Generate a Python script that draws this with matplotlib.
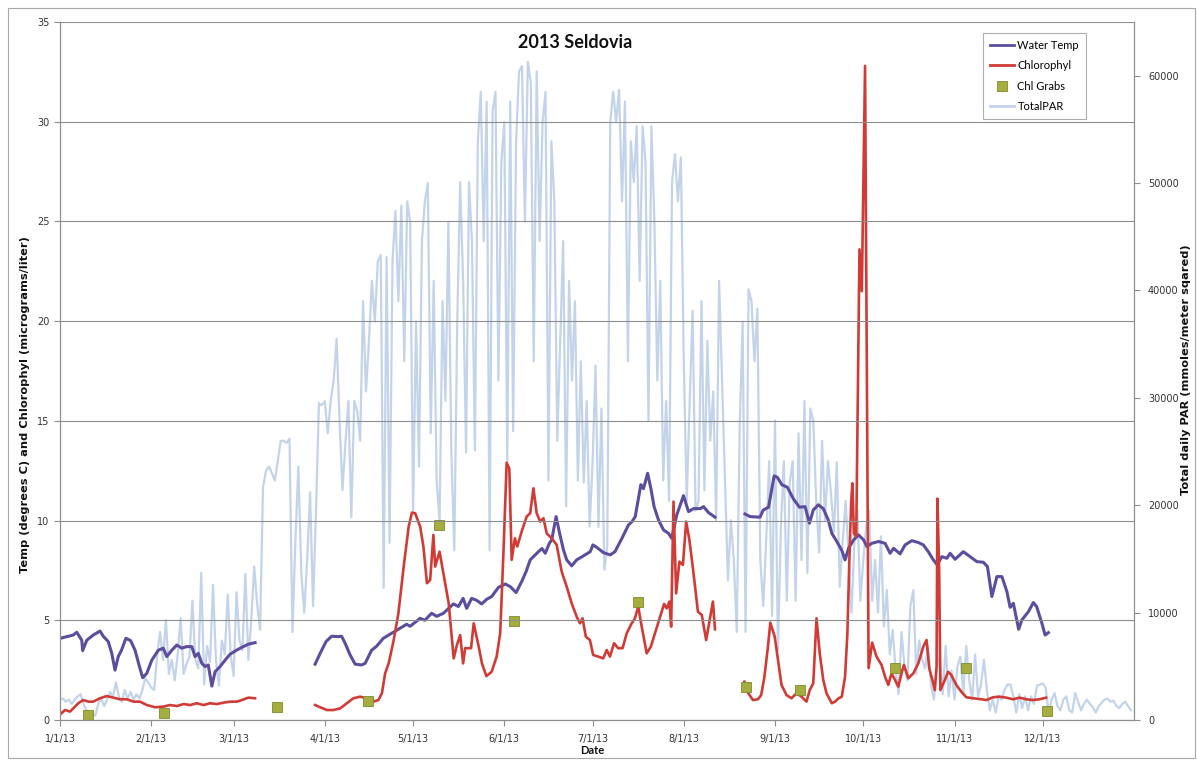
import numpy as np
import matplotlib
matplotlib.use('Agg')
import matplotlib.pyplot as plt
import matplotlib.dates as mdates
from matplotlib.lines import Line2D
from matplotlib.patches import Rectangle

# ---------------- data (day offsets from 2013-01-01) ----------------
temp_day = [0.2, 4.5, 5.7, 7.4, 7.7, 9.1, 11.3, 13.6, 14.7, 16.4, 17.6, 18.7, 19.8, 20.9, 22.4,
            24, 25.5, 27, 28.1, 29.5, 31.2, 33.4, 35.1, 36.3, 38, 39.7, 41.4, 43, 44.8, 45.9,
            47, 48.2, 49.3, 50.4, 51.6, 52.7, 54.4, 56.1, 57.8, 60, 62.3, 64, 66.3,
            76,
            86.7, 88.4, 90.4, 92.3, 94.6, 95.7, 96.9, 98.6, 100.3, 102.5, 103.7, 105.9, 107.6, 109.9,
            112.7, 115, 117.8, 119, 122.4, 124, 126.3, 128, 130.3, 133.7, 135.4, 137, 138.2, 139.9,
            141.6, 143.3, 145, 146.7, 149, 151.3, 153, 155, 156.9, 158.4, 159.8, 160.9, 162.6, 163.8,
            164.9, 166.3, 167.1, 168.6, 169.8, 171.1, 172.2, 173.9, 175.6, 177.9, 180.2, 181.1, 182.4,
            184.7, 187, 188.6, 190.8, 193.2, 194.4, 195.5, 197.4, 198.3, 199.7, 200.8, 201.9, 203.4,
            205.1, 206.8, 207.9, 209.6, 211.9, 213.6, 215.3, 217.6, 218.7, 220.4, 222.6,
            228,
            232.8, 234.5, 237.9, 239, 240.8, 242.7, 243.8, 245.3, 247.2, 249.2, 251.3, 253.2, 254.7,
            256, 257.7, 259.4, 261.1, 262.3, 264, 265.7, 266.8, 268, 269.7, 271.4, 273.1, 274.2,
            275.9, 278.2, 280.4, 282.1, 283.3, 285.5, 287.2, 289.5, 291.7, 293.4, 295.1, 296.8,
            298.1, 299.7, 301.4, 302.5, 304.2, 307, 309.3, 311.6, 313.8, 315.2, 316.7, 318.4,
            320.1, 321.8, 322.9, 324, 325.8, 326.9, 329.1, 330.8, 331.9, 333.7, 334.8, 335.9]
temp_val = [4.1, 4.26, 4.4, 4.0, 3.48, 4.0, 4.26, 4.46, 4.2, 3.93, 3.34, 2.5, 3.18, 3.5, 4.1,
            3.98, 3.5, 2.68, 2.12, 2.34, 3.0, 3.5, 3.6, 3.18, 3.5, 3.76, 3.6, 3.68, 3.68, 3.18,
            3.34, 2.84, 2.68, 2.76, 1.7, 2.42, 2.68, 3.0, 3.3, 3.5, 3.68, 3.8, 3.88,
            np.nan,
            2.8, 3.34, 3.93, 4.2, 4.18, 4.2, 3.85, 3.26, 2.8, 2.76, 2.84, 3.5, 3.7, 4.1,
            4.35, 4.55, 4.8, 4.7, 5.1, 5.0, 5.35, 5.2, 5.35, 5.82, 5.69, 6.1, 5.6, 6.1,
            6.0, 5.82, 6.05, 6.19, 6.65, 6.82, 6.69, 6.39, 6.94, 7.44, 8.03, 8.19, 8.44, 8.6,
            8.36, 8.86, 9.03, 10.2, 9.36, 8.53, 8.03, 7.73, 8.03, 8.23, 8.44, 8.78, 8.66,
            8.39, 8.28, 8.44, 9.06, 9.78, 9.95, 10.2, 11.8, 11.6, 12.37, 11.62, 10.7, 10.03,
            9.53, 9.36, 9.11, 10.28, 11.25, 10.45, 10.6, 10.6, 10.7, 10.4, 10.17,
            np.nan,
            10.33, 10.2, 10.17, 10.53, 10.67, 12.24, 12.17, 11.8, 11.67, 11.1, 10.67, 10.7, 9.87,
            10.53, 10.79, 10.6, 10.03, 9.36, 8.95, 8.5, 8.03, 8.61, 9.03, 9.28, 9.03, 8.7,
            8.86, 8.95, 8.86, 8.36, 8.61, 8.33, 8.78, 8.99, 8.9, 8.78, 8.44, 8.03,
            7.78, 8.19, 8.11, 8.36, 8.06, 8.44, 8.19, 7.94, 7.91, 7.69, 6.19, 7.19,
            7.19, 6.44, 5.65, 5.85, 4.55, 5.02, 5.43, 5.89, 5.69, 4.85, 4.26, 4.38]

chl_day = [0.2, 1.7, 3.4, 4.5, 6.2, 7.9, 9.6, 11.3, 13.6, 15.9, 18.1, 20.4, 22.7, 25, 27.2,
           29.5, 32.3, 35.1, 37.4, 39.7, 42, 44.2, 46.5, 48.8, 51, 53.3, 55.6, 57.8, 60.1, 61.8,
           64, 66.3,
           76,
           86.7, 88.4, 90.7, 92.9, 95.2, 97.5, 99.7, 102, 104.3, 106.5, 108.2, 109.4, 110.5, 111.7,
           113.4, 115, 116.8, 118.5, 119.6, 120.7, 122.4, 123.5, 124.7, 125.8, 126.9, 127.5, 129,
           130.3, 132.1, 133.8, 134.9, 136, 137, 137.7, 139.7, 140.6, 142.3, 143.4, 144.9, 146.7,
           148.4, 149.6, 150.7, 151.8, 152.7, 153.5, 154.6, 155.4, 156.9, 158.6, 159.8, 160.9, 162,
           163.2, 164.3, 165.4, 167.1, 168.8, 170.5, 172.2, 173.9, 175.6, 176.7, 177.6, 178.7,
           180.1, 181.2, 182.9, 184.6, 185.8, 186.9, 188.3, 189.7, 191.2, 192.6, 194.3, 195.4,
           196.5, 197.7, 199.4, 200.8, 202.2, 203.9, 205.3, 206.2, 207.1, 207.7, 208.5, 209.4,
           210.5, 211.7, 212.8, 213.9, 215.3, 216.8, 218.1, 219.6, 220.8, 221.9, 222.6,
           228,
           232.6, 233.8, 235.5, 237.2, 238.3, 239.4, 240.6, 241.4, 242.9, 244, 245.2, 246.9, 248.6,
           250.3, 252, 253.7, 254.8, 256, 257.1, 258.2, 259.4, 260.5, 262.3, 263.4, 264.6, 265.7,
           266.8, 267.6, 268.2, 268.9, 269.3, 269.8, 270.6, 271.7, 272.5, 273.6, 274.8, 276.0,
           277.5, 279.2, 280.4, 281.5, 282.6, 283.8, 284.9, 286, 286.8, 288.3, 290, 291.7, 293.4,
           294.5, 295.4, 296.5, 297.3, 297.9, 298.2, 298.8, 299.2, 300.7, 301.8, 302.9, 304.6,
           306.3, 308, 310.3, 313.1, 314.8, 317.1, 319.3, 321.6, 323.9, 326.1, 328.4, 330.6,
           332.9, 335.1]
chl_val = [0.3, 0.5, 0.42, 0.58, 0.84, 1.0, 0.92, 0.92, 1.09, 1.2, 1.12, 1.04, 1.04, 0.92, 0.92,
           0.75, 0.64, 0.67, 0.75, 0.7, 0.8, 0.75, 0.84, 0.75, 0.84, 0.8, 0.87, 0.92, 0.92, 1.0,
           1.12, 1.09,
           np.nan,
           0.75, 0.64, 0.5, 0.5, 0.58, 0.84, 1.09, 1.17, 1.09, 0.92, 1.0, 1.34, 2.34, 2.84,
           4.0, 5.35, 7.69, 9.7, 10.4, 10.37, 9.7, 8.7, 6.86, 7.02, 9.28, 7.69, 8.44,
           7.36, 5.85, 3.09, 3.76, 4.26, 2.84, 3.6, 3.6, 4.85, 3.68, 2.84, 2.2, 2.42,
           3.18, 4.35, 8.36, 12.9, 12.6, 8.03, 9.11, 8.7, 9.45, 10.2, 10.37, 11.62, 10.37,
           9.95, 10.12, 9.36, 9.11, 8.78, 7.44, 6.69, 5.85, 5.18, 4.85, 5.1, 4.18,
           4.01, 3.26, 3.18, 3.09, 3.51, 3.18, 3.85, 3.6, 3.6, 4.35, 4.85, 5.1,
           5.69, 4.68, 3.34, 3.68, 4.35, 5.18, 5.82, 5.6, 5.94, 4.68, 10.95, 6.35,
           7.94, 7.78, 9.95, 9.03, 7.36, 5.43, 5.27, 4.01, 5.02, 5.94, 4.55,
           np.nan,
           1.92, 1.37, 1.0, 1.04, 1.25, 2.17, 3.68, 4.88, 4.18, 3.01, 1.76, 1.25, 1.09,
           1.34, 1.17, 0.92, 1.5, 1.84, 5.1, 3.34, 2.0, 1.34, 0.84, 0.92, 1.09, 1.17,
           2.17, 4.35, 7.69, 11.0, 11.87, 9.36, 9.2, 23.6, 21.5, 32.8, 2.6, 3.88,
           3.18, 2.76, 2.17, 1.76, 2.34, 2.0, 1.67, 2.34, 2.76, 2.09, 2.34, 2.84, 3.68,
           4.01, 2.6, 2.0, 1.5, 2.68, 11.1, 7.36, 1.5, 2.0, 2.42, 2.26, 1.76,
           1.42, 1.14, 1.09, 1.04, 1.0, 1.14, 1.17, 1.12, 1.04, 1.12, 1.04, 1.0,
           1.04, 1.12]

grab_day = [9.6, 35.4, 73.6, 104.8, 128.8, 154.3, 196.5, 233.1, 251.6, 283.7, 307.8, 335.5]
grab_val = [0.25, 0.33, 0.64, 0.97, 9.78, 4.98, 5.94, 1.67, 1.48, 2.6, 2.6, 0.45]

# Total daily PAR, one value per day, Jan 1 .. Dec 31
par_jan = [1900, 2000, 1700, 1900, 1500, 1900, 2200, 2400, 1500, 900, 400, 600, 400, 1500, 2000,
           1300, 1900, 2600, 2200, 3500, 2200, 1700, 2800, 2000, 2600, 1900, 2400, 2000, 2800,
           3900, 3500]
par_feb = [3000, 2800, 5900, 8200, 5600, 9300, 4300, 5600, 3700, 6100, 9500, 4300, 5200, 5900,
           11100, 5600, 4800, 13700, 3300, 6900, 5400, 12600, 5600, 3200, 7400, 6100, 11700, 6100]
par_mar = [4100, 11900, 7400, 6500, 13600, 5600, 9300, 14300, 10800, 8400, 21700, 23200, 23600,
           23000, 22300, 24100, 26000, 26000, 25800, 26200, 8200, 16700, 23600, 13700, 10000,
           14900, 21200, 10600, 19500, 29500, 29300]
par_apr = [29700, 26700, 29700, 31600, 35500, 27900, 21400, 25800, 29700, 18900, 29700, 28800,
           26000, 39000, 30600, 35300, 40900, 37100, 42700, 43300, 12300, 43100, 16500, 42700,
           47400, 39000, 47900, 33400, 48300, 46400]
par_may = [19500, 37100, 23600, 44600, 48300, 50000, 26700, 40900, 22300, 18600, 39000, 29700,
           46400, 24900, 15800, 37100, 50100, 40900, 24900, 50100, 44600, 25100, 53900, 58500,
           44600, 57600, 15800, 56600, 58500, 31600, 52000]
par_jun = [55700, 24100, 57600, 26900, 53900, 60400, 60900, 46400, 61300, 59400, 33400, 60400,
           44600, 55700, 58500, 22300, 53900, 48300, 26000, 35300, 44600, 19900, 40900, 31600,
           39000, 22300, 33400, 22100, 29700, 18000]
par_jul = [24000, 33000, 18000, 29000, 14000, 16200, 55700, 58500, 55700, 58700, 48300, 57600,
           33400, 53900, 50100, 55300, 40900, 55300, 52000, 27900, 55300, 46400, 31600, 40900,
           22300, 29700, 20400, 50100, 52700, 48300, 52400]
par_aug = [33400, 20400, 29700, 38100, 19500, 20400, 39000, 21400, 35300, 26000, 30600, 18600,
           40900, 31600, 22300, 13000, 18600, 14900, 8200, 27300, 37100, 8200, 40100, 39000,
           33400, 38300, 14900, 10600, 16700, 24100, 9700]
par_sep = [27900, 6500, 18000, 24100, 11100, 22100, 24100, 11100, 26700, 14900, 29700, 13700,
           29000, 27900, 20400, 15600, 26000, 18600, 24100, 21200, 17500, 24000, 12400, 16700,
           20400, 15200, 10000, 16700, 19500, 11100]
par_oct = [14900, 18000, 19500, 11100, 14900, 10000, 17100, 8700, 12100, 6100, 8400, 4600, 2400,
           8200, 5000, 3700, 10600, 12100, 4300, 7400, 5600, 4800, 6900, 3300, 1900, 5000, 5900,
           2400, 6900, 2200, 4600]
par_nov = [1900, 5000, 5900, 2400, 6900, 3700, 1900, 6100, 2200, 3300, 5600, 2800, 900, 1900, 700,
           2200, 1900, 2800, 3300, 3300, 2200, 700, 2400, 1100, 2200, 900, 2200, 1500, 3200, 3300]
par_dec = [3400, 3000, 600, 1900, 2500, 1300, 900, 1900, 2200, 900, 700, 2500, 1700, 900, 1500,
           1900, 1500, 1200, 700, 1300, 1600, 1900, 2000, 1700, 1800, 1300, 1100, 1500, 1700,
           1300, 900]

month_labels = ['1/1/13', '2/1/13', '3/1/13', '4/1/13', '5/1/13', '6/1/13', '7/1/13',
                '8/1/13', '9/1/13', '10/1/13', '11/1/13', '12/1/13']
month_days = [0, 31, 59, 90, 120, 151, 181, 212, 243, 273, 304, 334]

# ---------------- plotting ----------------
W, H = 1197, 770
fig = plt.figure(figsize=(W / 100, H / 100), dpi=100)
base = mdates.date2num(np.datetime64('2013-01-01'))

par = par_jan + par_feb + par_mar + par_apr + par_may + par_jun + par_jul + par_aug + \
    par_sep + par_oct + par_nov + par_dec
par_x = base + np.arange(len(par))

ax = fig.add_axes([60 / W, 50 / H, (1134 - 60) / W, (720 - 22) / H])
ax2 = ax.twinx()
ax.set_zorder(ax2.get_zorder() + 1)
ax.patch.set_visible(False)

c_temp = '#5C4E9C'
c_chl = '#D13B36'
c_par = '#C3D4EA'
c_grab = '#A4AD3D'
c_grid = '#8E8E8E'
c_txt = '#333333'

ax2.plot(par_x, par, color=c_par, lw=1.6, solid_joinstyle='round')
ax.plot(base + np.array(temp_day), temp_val, color=c_temp, lw=2.2, solid_joinstyle='round')
ax.plot(base + np.array(chl_day), chl_val, color=c_chl, lw=1.9, solid_joinstyle='round')
ax.plot(base + np.array(grab_day), grab_val, ls='none', marker='s', ms=6.5,
        mfc=c_grab, mec='#7F8A2C', mew=0.6)

ax.set_xlim(base, base + 365)
ax.set_ylim(0, 35)
ax2.set_ylim(0, 65000)
ax.set_yticks(np.arange(0, 36, 5))
ax2.set_yticks(np.arange(0, 60001, 10000))
ax.set_xticks(base + np.array(month_days))
ax.set_xticklabels(month_labels)

ax.yaxis.grid(True, color=c_grid, lw=0.8)
ax.set_axisbelow(False)
for s in ['top']:
    ax.spines[s].set_visible(False)
    ax2.spines[s].set_visible(False)
for a in (ax, ax2):
    for s in ['left', 'right', 'bottom']:
        a.spines[s].set_color(c_grid)
        a.spines[s].set_linewidth(0.8)
ax.tick_params(axis='both', colors=c_grid, labelcolor=c_txt, labelsize=7, length=4, width=0.8,
               direction='out')
ax.tick_params(axis='x', pad=6)
ax2.tick_params(axis='y', colors=c_grid, labelcolor=c_txt, labelsize=7, length=4, width=0.8,
                direction='out', pad=6)
for lab in ax.get_xticklabels() + ax.get_yticklabels() + ax2.get_yticklabels():
    lab.set_family('DejaVu Sans')

lab_font = ['DejaVu Sans']
fig.text(25 / W, 1 - 405 / H, 'Temp (degrees C) and Chlorophyl (micrograms/liter)', rotation=90,
         ha='center', va='center', fontsize=8.2, fontweight='bold', family=lab_font,
         color='#111111')
fig.text(1186 / W, 1 - 370 / H, 'Total daily PAR (mmoles/meter sqared)', rotation=90,
         ha='center', va='center', fontsize=8.2, fontweight='bold', family=lab_font,
         color='#111111')
fig.text(592 / W, 1 - 751 / H, 'Date', ha='center', va='center', fontsize=8, fontweight='bold',
         family=['Lato', 'DejaVu Sans'], color='#111111')
fig.text(575 / W, 1 - 42 / H, '2013 Seldovia', ha='center', va='center', fontsize=13,
         fontweight='bold', family=['Lato', 'DejaVu Sans'], color='#111111')

handles = [Line2D([], [], color=c_temp, lw=2),
           Line2D([], [], color=c_chl, lw=2),
           Line2D([], [], ls='none', marker='s', ms=6.5, mfc=c_grab, mec='#7F8A2C', mew=0.6),
           Line2D([], [], color=c_par, lw=2)]
leg = fig.legend(handles, ['Water Temp', 'Chlorophyl', 'Chl Grabs', 'TotalPAR'],
                 loc='upper left', bbox_to_anchor=(983 / W, 1 - 33 / H), frameon=True,
                 fancybox=False, edgecolor='#9A9A9A', handlelength=2.2,
                 handletextpad=0.3, labelspacing=0.85, borderpad=0.6, borderaxespad=0,
                 prop={'family': ['Lato', 'DejaVu Sans'], 'size': 8})
leg.get_frame().set_linewidth(0.8)

fig.add_artist(Rectangle((8 / W, 12 / H), (1195 - 8) / W, (762 - 12) / H,
                         transform=fig.transFigure, fill=False, edgecolor='#A8A8A8', lw=0.8))

fig.savefig('out.png', dpi=100)
